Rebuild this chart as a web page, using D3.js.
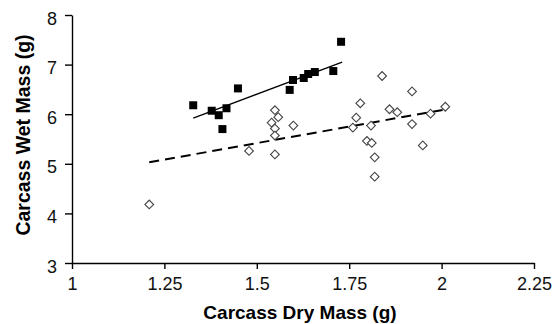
<!DOCTYPE html>
<html>
<head>
<meta charset="utf-8">
<script src="https://cdn.jsdelivr.net/npm/d3@7"></script>
<style>
  body { margin: 0; background: #fff; }
  svg text { font-family: "Liberation Sans", Arial, sans-serif; fill: #000; }
  .axis path, .axis line { stroke: #000; stroke-width: 1.4px; }
</style>
</head>
<body>
<div id="chart"></div>
<script>
// Canvas size, same as the window.
var w = 555,
    h = 324;

// Filled squares: dry mass vs wet mass.
var squareDry = [1.328, 1.378, 1.397, 1.418, 1.407, 1.449, 1.598, 1.589, 1.627, 1.639, 1.657, 1.707, 1.728],
    squareWet = [6.18, 6.07, 5.98, 6.12, 5.70, 6.52, 6.69, 6.49, 6.73, 6.81, 6.85, 6.87, 7.46];

// Open diamonds.
var diamondDry = [1.209, 1.479, 1.549, 1.558, 1.540, 1.549, 1.549, 1.549, 1.599,
                  1.839, 1.920, 1.780, 1.859, 1.880, 1.769, 1.760, 1.809, 1.970,
                  2.010, 1.920, 1.798, 1.811, 1.949, 1.819, 1.819],
    diamondWet = [4.18, 5.26, 6.08, 5.94, 5.83, 5.71, 5.57, 5.19, 5.77,
                  6.77, 6.46, 6.22, 6.10, 6.04, 5.93, 5.73, 5.77, 6.01,
                  6.15, 5.80, 5.46, 5.42, 5.37, 5.13, 4.74];

// Trend line ends as drawn in the picture.
var squareFitDry = [1.328, 1.731],
    squareFitWet = [5.92, 7.05],
    diamondFitDry = [1.209, 2.013],
    diamondFitWet = [5.03, 6.10];

// Tick values.
var xTicks = [1, 1.25, 1.5, 1.75, 2, 2.25],
    yTicks = [3, 4, 5, 6, 7, 8];

var x = d3.scaleLinear().domain([1, 2.25]).range([72, 534]);
var y = d3.scaleLinear().domain([3, 8]).range([263, 15]);

var plain = function (d) { return String(d); };

var svg = d3.select("#chart")
    .append("svg")
    .attr("width", w)
    .attr("height", h);

// Axes
var xAxis = svg.append("g")
    .attr("class", "axis")
    .attr("transform", "translate(0," + y(3) + ")")
    .call(d3.axisBottom(x).tickValues(xTicks).tickSize(6).tickSizeOuter(0).tickFormat(plain));
xAxis.selectAll("text")
    .attr("dy", 0)
    .attr("y", 27)
    .style("font-size", "18px");

var yAxis = svg.append("g")
    .attr("class", "axis")
    .attr("transform", "translate(" + x(1) + ",0)")
    .call(d3.axisLeft(y).tickValues(yTicks).tickSize(7).tickSizeOuter(0).tickFormat(plain));
yAxis.selectAll("text")
    .attr("x", -15)
    .attr("dy", "0.5em")
    .style("font-size", "18px");

svg.selectAll(".axis text").style("fill", "#111");

// Axis titles
svg.append("text")
    .attr("x", 300)
    .attr("y", 319)
    .attr("text-anchor", "middle")
    .style("font-size", "19px")
    .style("font-weight", "bold")
    .text("Carcass Dry Mass (g)");

svg.append("text")
    .attr("transform", "translate(30," + 135 + ") rotate(-90)")
    .attr("text-anchor", "middle")
    .style("font-size", "19.5px")
    .style("font-weight", "bold")
    .text("Carcass Wet Mass (g)");

// Trend lines
var line = d3.line()
    .x(function (d) { return x(d[0]); })
    .y(function (d) { return y(d[1]); });

svg.append("path")
    .datum(d3.zip(diamondFitDry, diamondFitWet))
    .attr("d", line)
    .attr("fill", "none")
    .attr("stroke", "#000")
    .attr("stroke-width", 2)
    .attr("stroke-dasharray", "10,6");

svg.append("path")
    .datum(d3.zip(squareFitDry, squareFitWet))
    .attr("d", line)
    .attr("fill", "none")
    .attr("stroke", "#000")
    .attr("stroke-width", 1.3);

// Diamonds (squares rotated by 45 degrees)
var diamond = d3.symbol().type(d3.symbolSquare).size(38);
svg.append("g")
    .selectAll("path")
    .data(d3.zip(diamondDry, diamondWet))
    .enter()
    .append("path")
    .attr("d", diamond)
    .attr("transform", function (d) {
        return "translate(" + x(d[0]) + "," + y(d[1]) + ") rotate(45)";
    })
    .attr("fill", "#fff")
    .attr("stroke", "#444")
    .attr("stroke-width", 1.1);

// Filled squares
var square = d3.symbol().type(d3.symbolSquare).size(64);
svg.append("g")
    .selectAll("path")
    .data(d3.zip(squareDry, squareWet))
    .enter()
    .append("path")
    .attr("d", square)
    .attr("transform", function (d) {
        return "translate(" + x(d[0]) + "," + y(d[1]) + ")";
    })
    .attr("fill", "#000");
</script>
</body>
</html>
